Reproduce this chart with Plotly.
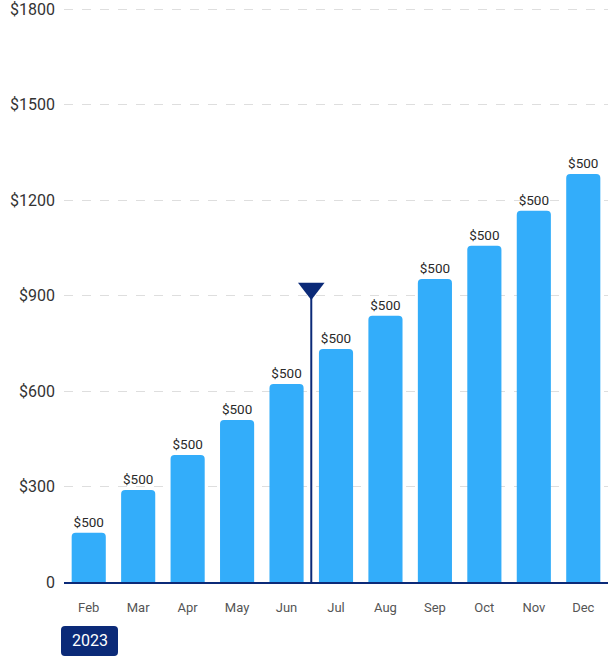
import plotly.graph_objects as go

months = ["Feb", "Mar", "Apr", "May", "Jun", "Jul", "Aug", "Sep", "Oct", "Nov", "Dec"]
values = [155, 289, 399, 509, 622, 732, 836, 952, 1056, 1166, 1282]
bar_labels = ["$500"] * len(months)
y_tickvals = [0, 300, 600, 900, 1200, 1500, 1800]
y_ticktext = ["0", "$300", "$600", "$900", "$1200", "$1500", "$1800"]
marker_pos = 4.5
marker_value = 922
year_label = "2023"

W, H = 608, 656
ml, mr, mt, mb = 64, 0, 1, 74
ymax = 1800 * (582 - mt) / 573.0

fig = go.Figure()
fig.add_trace(go.Bar(
    x=list(range(len(months))), y=values,
    text=bar_labels, textposition="outside", cliponaxis=False,
    textfont=dict(family="Roboto", size=13.5, color="#2a2a2a"),
    marker=dict(color="#33adfa", cornerradius=4, line=dict(width=0)),
    hoverinfo="skip",
))
# vertical marker line
fig.add_shape(type="line", xref="x", yref="y", x0=marker_pos, x1=marker_pos,
              y0=0, y1=marker_value - 20, line=dict(color="#0b2a78", width=2))
fig.add_trace(go.Scatter(
    x=[marker_pos], y=[marker_value], mode="markers",
    marker=dict(symbol="triangle-down", size=23, color="#0b2a78",
                line=dict(width=0)),
    hoverinfo="skip", cliponaxis=False,
))

# 2023 badge with rounded corners (paper coords)
ph = H - mt - mb
pw = W - ml - mr
def px2paper(px, py):
    return (px - ml) / pw, (H - mb - py) / ph
x0p, x1p, y0p, y1p, r = 61, 118, 626, 656, 4
def P(x, y):
    a, b = px2paper(x, y)
    return f"{a:.5f},{b:.5f}"
path = (f"M {P(x0p + r, y0p)} L {P(x1p - r, y0p)} Q {P(x1p, y0p)} {P(x1p, y0p + r)} "
        f"L {P(x1p, y1p - r)} Q {P(x1p, y1p)} {P(x1p - r, y1p)} "
        f"L {P(x0p + r, y1p)} Q {P(x0p, y1p)} {P(x0p, y1p - r)} "
        f"L {P(x0p, y0p + r)} Q {P(x0p, y0p)} {P(x0p + r, y0p)} Z")
fig.add_shape(type="path", xref="paper", yref="paper", path=path,
              fillcolor="#0b2a78", line=dict(width=0))
cx, cy = px2paper((x0p + x1p) / 2, (y0p + y1p) / 2)
fig.add_annotation(x=cx, y=cy, xref="paper", yref="paper", text=year_label,
                   showarrow=False, xanchor="center", yanchor="middle",
                   font=dict(family="Roboto", size=16, color="white"))

fig.update_layout(
    width=W, height=H, margin=dict(l=ml, r=mr, t=mt, b=mb),
    plot_bgcolor="white", paper_bgcolor="white", showlegend=False,
    bargap=0.31,
    xaxis=dict(range=[-0.5, len(months) - 0.5], tickvals=list(range(len(months))),
               ticktext=months, showgrid=False, zeroline=False,
               showline=True, linecolor="#0b2a78", linewidth=2,
               ticks="", ticklabelstandoff=12,
               tickfont=dict(family="Roboto", size=13, color="#555555")),
    yaxis=dict(range=[0, ymax], tickvals=y_tickvals, ticktext=y_ticktext,
               showgrid=True, gridcolor="#dedede", griddash="dash", gridwidth=1,
               zeroline=False, showline=False, ticks="", ticklabelstandoff=8,
               ticklabeloverflow="allow",
               tickfont=dict(family="Roboto", size=16, color="#333333")),
)
fig.write_html("out.html")
